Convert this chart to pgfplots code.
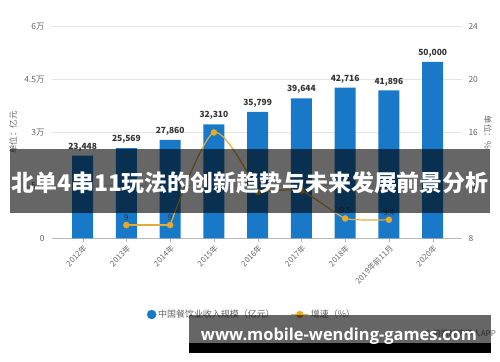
\documentclass[border=0pt]{standalone}
\usepackage{pgfplots}
\pgfplotsset{compat=1.18}
\usepackage{fontspec}
\setmainfont{Noto Sans CJK SC}
\newfontfamily\urlfont{Open Sans}
\definecolor{barblue}{HTML}{1879C9}
\definecolor{gold}{HTML}{E0AC3C}
\definecolor{golddot}{HTML}{E9AA25}
\definecolor{tickgray}{HTML}{666666}
\definecolor{labgray}{HTML}{333333}
\definecolor{gridc}{HTML}{E4E4E4}
\begin{document}
\begin{tikzpicture}
\useasboundingbox (0bp,0bp) rectangle (500bp,362bp);
\begin{axis}[
  at={(52bp,123.7bp)}, anchor=south west,
  scale only axis, width=410bp, height=211.7bp,
  xmin=-0.7, xmax=8.67, ymin=0, ymax=60000,
  /pgf/number format/assume math mode=true,
  scaled y ticks=false,
  axis x line*=bottom, axis y line*=left,
  y axis line style={draw=none},
  x axis line style={draw=gray!55, line width=0.8pt},
  ytick={0,15000,30000,45000,60000},
  yticklabels={0,1.5万,3万,4.5万,6万},
  ytick style={draw=none},
  ymajorgrids, grid style={gridc, line width=0.8pt},
  yticklabel style={font=\fontsize{8.5}{10}\selectfont, text=tickgray},
  xtick={0,...,8},
  xticklabels={2012年,2013年,2014年,2015年,2016年,2017年,2018年,2019年前11月,2020年},
  x tick label style={rotate=45, anchor=north east, font=\fontsize{7.8}{9}\selectfont, text=tickgray, inner sep=1.5pt},
  xtick style={draw=gray!55}, tick align=outside, major tick length=4bp,
  ylabel={单位：亿元},
  ylabel style={at={(axis description cs:-0.095,0.5)}, anchor=center, font=\fontsize{8.5}{10}\selectfont, text=tickgray},
  ybar, bar width=21bp,
  nodes near coords={\pgfmathprintnumber[fixed,precision=0,1000 sep={,}]{\pgfplotspointmeta}},
  every node near coord/.append style={font=\bfseries\fontsize{8.5}{10}\selectfont, text=labgray, yshift=1bp},
]
\addplot[fill=barblue, draw=none] coordinates {
 (0,23448) (1,25569) (2,27860) (3,32310) (4,35799) (5,39644) (6,42716) (7,41896) (8,50000)};
\end{axis}
\begin{axis}[
  at={(52bp,123.7bp)}, anchor=south west,
  scale only axis, width=410bp, height=211.7bp,
  xmin=-0.7, xmax=8.67, ymin=8, ymax=24,
  /pgf/number format/assume math mode=true,
  axis x line=none, axis y line*=right,
  y axis line style={draw=none},
  ytick={8,12,16,20,24}, ytick style={draw=none},
  yticklabel style={font=\fontsize{8.5}{10}\selectfont, text=tickgray, xshift=3bp},
  ylabel={单位：\%},
  ylabel style={at={(axis description cs:1.063,0.5)}, anchor=center, rotate=180, font=\fontsize{8.5}{10}\selectfont, text=tickgray},
  legend style={at={(axis description cs:0.488,-0.36)}, anchor=center, legend columns=2, draw=none, fill=none,
     font=\fontsize{9}{10}\selectfont, text=tickgray, /tikz/every even column/.append style={column sep=14bp}},
]
\addlegendimage{only marks, mark=*, mark size=4.5bp, mark options={fill=barblue, draw=barblue}}
\addlegendentry{中国餐饮业收入规模（亿元）}
\addlegendimage{gold, line width=1.2pt, mark=*, mark size=3bp, mark options={fill=golddot, draw=golddot}}
\addlegendentry{增速（\%）}
\addplot[gold, line width=1.2pt, forget plot] coordinates {(1,9) (2,9)};
\addplot[gold, line width=1.2pt, smooth, tension=0.5, forget plot] coordinates {(2,9) (3,16) (4,11.5)};
\addplot[gold, line width=1.2pt, smooth, tension=0.3, forget plot] coordinates {(4,11.5) (5,11.6) (6,9.5) (7,9.4)};
\addplot[only marks, mark=*, mark size=3bp, mark options={fill=golddot, draw=golddot}, forget plot,
  point meta=explicit symbolic, nodes near coords,
  every node near coord/.append style={font=\fontsize{8}{9}\selectfont, text=labgray, anchor=south, yshift=1bp}]
 coordinates {(1,9) [9] (2,9) [9] (3,16) [] (4,11.5) [10.8] (5,11.6) [10.7] (6,9.5) [9.5] (7,9.4) [9.4]};
\end{axis}
% overlay banner
\fill[black, opacity=0.6] (10bp,149bp) rectangle (490bp,213bp);
\node[text=white, font=\bfseries\fontsize{23}{25}\selectfont, inner sep=0] at (250bp,179bp) {北单4串11玩法的创新趋势与未来发展前景分析};
% source
\node[anchor=east, text=tickgray, font=\fontsize{8}{9}\selectfont, inner sep=0] at (496bp,29bp) {© 前瞻经济学人APP};
\fill[black, opacity=0.6] (189bp,19bp) rectangle (491bp,47bp);
\fill[black] (189bp,9bp) rectangle (491bp,19bp);
\node[text=white, font=\urlfont\bfseries\fontsize{16.5}{18}\selectfont, inner sep=0] at (339bp,26bp) {www.mobile-wending-games.com};
\end{tikzpicture}
\end{document}
